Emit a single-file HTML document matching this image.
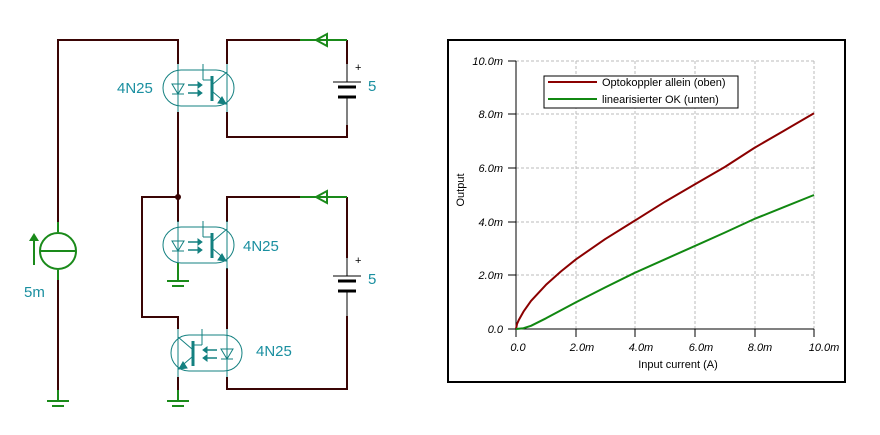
<!DOCTYPE html>
<html><head><meta charset="utf-8"><style>
html,body{margin:0;padding:0;background:#fff;width:880px;height:435px;overflow:hidden}
svg{display:block}
text{font-family:"Liberation Sans",sans-serif}
</style></head><body>
<svg width="880" height="435" viewBox="0 0 880 435" xmlns="http://www.w3.org/2000/svg">
<defs>
<g id="opto" fill="none" stroke="#138080" stroke-width="1">
  <rect x="163" y="70" width="71" height="36" rx="18" ry="18"/>
  <line x1="178" y1="64" x2="178" y2="112"/>
  <polygon points="172,84 184,84 178,94" />
  <line x1="172" y1="94" x2="184" y2="94"/>
  <line x1="188" y1="85" x2="198" y2="85" stroke-width="1.5"/>
  <polygon points="198,82 202,85 198,88" fill="#138080"/>
  <line x1="188" y1="93" x2="198" y2="93" stroke-width="1.5"/>
  <polygon points="198,90 202,93 198,96" fill="#138080"/>
  <line x1="203" y1="64" x2="203" y2="80"/>
  <line x1="203" y1="80" x2="211" y2="80"/>
  <line x1="212" y1="76" x2="212" y2="101" stroke-width="3"/>
  <line x1="213" y1="84" x2="227" y2="72"/>
  <line x1="213" y1="92" x2="227" y2="104"/>
  <polygon points="218,103 226,104 222,97" fill="#138080"/>
  <line x1="227" y1="64" x2="227" y2="112"/>
</g>
<g id="gnd" stroke="#1a8a1a" stroke-width="2">
  <line x1="-11" y1="0" x2="11" y2="0"/>
  <line x1="-6" y1="5" x2="6" y2="5"/>
</g>
<g id="bat">
  <line x1="-14" y1="0" x2="14" y2="0" stroke="#000" stroke-width="1"/>
  <line x1="-9" y1="5" x2="9" y2="5" stroke="#000" stroke-width="3"/>
  <line x1="-9" y1="15" x2="9" y2="15" stroke="#000" stroke-width="3"/>
</g>
</defs>

<g stroke="#3a0505" stroke-width="2" fill="none">
  <polyline points="58,232 58,40 178,40 178,64"/>
  <line x1="58" y1="270" x2="58" y2="390"/>
  <line x1="178" y1="112" x2="178" y2="222"/>
  <polyline points="227,64 227,40 300,40"/>
  <line x1="347" y1="40" x2="347" y2="64"/>
  <polyline points="227,112 227,137 347,137 347,125"/>
  <polyline points="178,197 142,197 142,317 178,317 178,329"/>
  <polyline points="227,222 227,197 300,197"/>
  <line x1="347" y1="197" x2="347" y2="258"/>
  <polyline points="227,268 227,329"/>
  <polyline points="227,377 227,389 347,389 347,316"/>
  <line x1="178" y1="377" x2="178" y2="390"/>
</g>
<circle cx="178" cy="197" r="3" fill="#3a0505"/>
<g stroke="#000" stroke-width="1">
  <line x1="347" y1="64" x2="347" y2="82"/>
  <line x1="347" y1="97" x2="347" y2="125"/>
  <line x1="347" y1="258" x2="347" y2="276"/>
  <line x1="347" y1="291" x2="347" y2="316"/>
</g>
<use href="#bat" x="347" y="82"/>
<use href="#bat" x="347" y="276"/>
<text x="355" y="71" font-size="11" fill="#000">+</text>
<text x="355" y="264" font-size="11" fill="#000">+</text>
<text x="368" y="91" font-size="15" fill="#1a8fa0">5</text>
<text x="368" y="284" font-size="15" fill="#1a8fa0">5</text>

<g stroke="#1a8a1a" stroke-width="2" fill="none">
  <line x1="300" y1="40" x2="347" y2="40"/>
  <polygon points="316,40 327,34 327,46"/>
  <line x1="300" y1="197" x2="347" y2="197"/>
  <polygon points="316,197 327,191 327,203"/>
</g>

<use href="#opto"/>
<use href="#opto" transform="translate(0,157)"/>
<use href="#opto" transform="translate(405,265) scale(-1,1)"/>
<text x="117" y="93" font-size="15" fill="#1a8fa0">4N25</text>
<text x="243" y="251" font-size="15" fill="#1a8fa0">4N25</text>
<text x="256" y="356" font-size="15" fill="#1a8fa0">4N25</text>

<line x1="178" y1="263" x2="178" y2="281" stroke="#1a8a1a" stroke-width="2"/>
<use href="#gnd" x="178" y="281"/>
<line x1="178" y1="390" x2="178" y2="401" stroke="#1a8a1a" stroke-width="2"/>
<use href="#gnd" x="178" y="401"/>
<line x1="58" y1="390" x2="58" y2="401" stroke="#1a8a1a" stroke-width="2"/>
<use href="#gnd" x="58" y="401"/>

<g stroke="#1a8a1a" stroke-width="2" fill="none">
  <line x1="58" y1="222" x2="58" y2="232"/>
  <line x1="58" y1="270" x2="58" y2="280"/>
  <circle cx="58" cy="251" r="18"/>
  <line x1="40" y1="251" x2="76" y2="251"/>
  <line x1="34" y1="265" x2="34" y2="238"/>
</g>
<polygon points="34,233 29,241 39,241" fill="#1a8a1a"/>
<text x="24" y="297" font-size="15" fill="#1a8fa0">5m</text>

<rect x="448" y="40" width="397" height="342" fill="#fff" stroke="#000" stroke-width="2"/>
<g stroke="#bbb" stroke-width="1" stroke-dasharray="3,2">
  <line x1="576" y1="61" x2="576" y2="329"/>
  <line x1="635" y1="61" x2="635" y2="329"/>
  <line x1="695" y1="61" x2="695" y2="329"/>
  <line x1="755" y1="61" x2="755" y2="329"/>
  <line x1="814" y1="61" x2="814" y2="329"/>
  <line x1="516" y1="61" x2="814" y2="61"/>
  <line x1="516" y1="114" x2="814" y2="114"/>
  <line x1="516" y1="168" x2="814" y2="168"/>
  <line x1="516" y1="222" x2="814" y2="222"/>
  <line x1="516" y1="275" x2="814" y2="275"/>
</g>
<g stroke="#000" stroke-width="1">
  <line x1="516" y1="61" x2="516" y2="329"/>
  <line x1="516" y1="329" x2="814" y2="329"/>
  <line x1="508" y1="61" x2="516" y2="61"/><line x1="508" y1="114" x2="516" y2="114"/>
  <line x1="508" y1="168" x2="516" y2="168"/><line x1="508" y1="222" x2="516" y2="222"/>
  <line x1="508" y1="275" x2="516" y2="275"/><line x1="508" y1="329" x2="516" y2="329"/>
  <line x1="516" y1="329" x2="516" y2="337"/><line x1="576" y1="329" x2="576" y2="337"/>
  <line x1="635" y1="329" x2="635" y2="337"/><line x1="695" y1="329" x2="695" y2="337"/>
  <line x1="755" y1="329" x2="755" y2="337"/><line x1="814" y1="329" x2="814" y2="337"/>
</g>
<g font-size="11" font-style="italic" fill="#000" text-anchor="end">
  <text x="503" y="65">10.0m</text><text x="503" y="118">8.0m</text>
  <text x="503" y="172">6.0m</text><text x="503" y="226">4.0m</text>
  <text x="503" y="279">2.0m</text><text x="503" y="333">0.0</text>
</g>
<g font-size="11" font-style="italic" fill="#000" text-anchor="middle">
  <text x="518" y="351">0.0</text><text x="582" y="351">2.0m</text>
  <text x="641" y="351">4.0m</text><text x="701" y="351">6.0m</text>
  <text x="760" y="351">8.0m</text><text x="824" y="351">10.0m</text>
</g>
<text x="678" y="368" font-size="11" text-anchor="middle">Input current (A)</text>
<text x="0" y="0" font-size="11" text-anchor="middle" transform="translate(464,190) rotate(-90)">Output</text>
<polyline fill="none" stroke="#8b0000" stroke-width="2" stroke-linejoin="round" points="516,329 517,324 519,319.6 523.5,311.6 531,300.9 546,284.8 561,271.4 576,259.3 605,239.2 635,220.5 665,201.7 695,184.3 725,166.9 754,148.1 784,130.7 814,113.3"/>
<polyline fill="none" stroke="#118811" stroke-width="2" stroke-linejoin="round" points="516,329 523.5,328.2 531,325.8 546,318.3 561,310.2 576,302.2 605,287.5 635,272.7 665,259.3 695,245.9 725,232.5 754,219.1 784,207.1 814,195"/>
<rect x="544" y="76" width="194" height="32" fill="#fff" stroke="#000" stroke-width="1"/>
<line x1="548" y1="82" x2="597" y2="82" stroke="#8b0000" stroke-width="2"/>
<line x1="548" y1="99" x2="597" y2="99" stroke="#118811" stroke-width="2"/>
<text x="602" y="86" font-size="11">Optokoppler allein (oben)</text>
<text x="602" y="103" font-size="11">linearisierter OK (unten)</text>
</svg>
</body></html>
